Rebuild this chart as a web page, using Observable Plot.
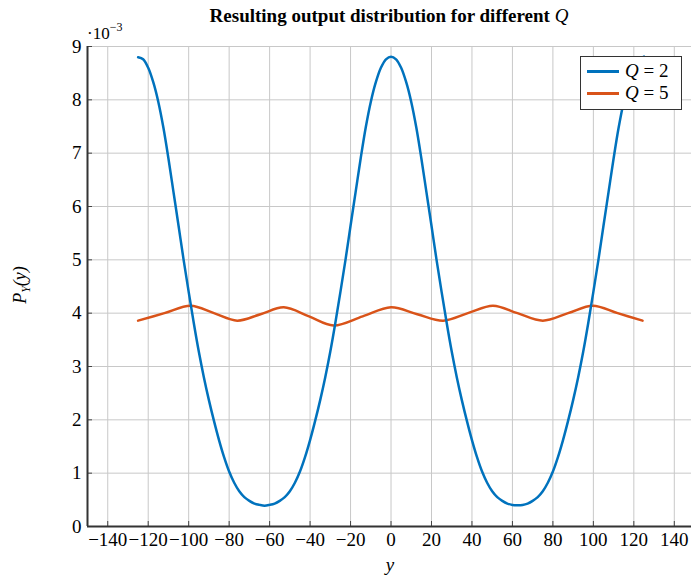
<!DOCTYPE html>
<html>
<head>
<meta charset="utf-8">
<script src="https://cdn.jsdelivr.net/npm/d3@7"></script>
<script src="https://cdn.jsdelivr.net/npm/@observablehq/plot@0.6"></script>
<style>
  body { margin: 0; background: #fff; }
  #wrap { position: relative; width: 691px; height: 576px; font-family: "Liberation Serif", "DejaVu Serif", serif; color: #000; }
  #title { position: absolute; left: 87px; width: 604px; top: 5px; text-align: center; font-weight: bold; font-size: 19px; }
  #expo { position: absolute; left: 87px; top: 21px; font-size: 17px; }
  #expo sup { font-size: 12px; position: relative; top: -1px; }
  #ylab { position: absolute; left: 22px; top: 285px; transform: translate(-50%, -50%) rotate(-90deg); font-size: 18px; font-style: italic; white-space: nowrap; }
  #xlab { position: absolute; left: 390px; top: 554px; transform: translateX(-50%); font-size: 19px; font-style: italic; }
  #legend { position: absolute; left: 580px; top: 56px; width: 102px; height: 54px; border: 1px solid #333; background: #fff; box-sizing: border-box; }
  .lg { position: absolute; left: 6px; display: flex; align-items: center; font-size: 19px; line-height: 22px; }
  .lg span.sw { display: inline-block; width: 32px; height: 3px; margin-right: 6px; }
  i { font-style: italic; }
</style>
</head>
<body>
<div id="wrap">
  <div id="chart"></div>
  <div id="title">Resulting output distribution for different <i style="font-weight:normal">Q</i></div>
  <div id="expo">·10<sup>−3</sup></div>
  <div id="ylab">P<sub style="font-size:12px">Y</sub>(y)</div>
  <div id="xlab">y</div>
  <div id="legend"></div>
</div>
<script>
// Values in units of 10^-3
const xTicks = [-140,-120,-100,-80,-60,-40,-20,0,20,40,60,80,100,120,140];
const yTicks = [0,1,2,3,4,5,6,7,8,9];
const seriesNames = ["Q = 2", "Q = 5"];
const seriesColors = ["#0072BD", "#D95319"];

const q2X = [-125,-122.5,-120,-117.5,-115,-112.5,-110,-107.5,-105,-102.5,-100,-97.5,-95,-92.5,-90,-87.5,-85,-82.5,-80,-77.5,-75,-72.5,-70,-67.5,-65,-62.5,
  -60,-57.5,-55,-52.5,-50,-47.5,-45,-42.5,-40,-37.5,-35,-32.5,-30,-27.5,-25,-22.5,-20,-17.5,-15,-12.5,-10,-7.5,-5,-2.5,0,
  2.5,5,7.5,10,12.5,15,17.5,20,22.5,25,27.5,30,32.5,35,37.5,40,42.5,45,47.5,50,52.5,55,57.5,60,62.5,
  65,67.5,70,72.5,75,77.5,80,82.5,85,87.5,90,92.5,95,97.5,100,102.5,105,107.5,110,112.5,115,117.5,120,122.5,125];
const q2Y = [8.80,8.76,8.60,8.33,7.96,7.48,6.90,6.27,5.64,5.00,4.40,3.82,3.28,2.80,2.37,1.98,1.62,1.30,1.03,0.82,0.66,0.55,0.48,0.43,0.405,0.39,
  0.405,0.43,0.48,0.55,0.66,0.82,1.03,1.30,1.62,1.98,2.37,2.80,3.28,3.82,4.40,5.00,5.64,6.27,6.90,7.48,7.96,8.33,8.60,8.76,8.81,
  8.76,8.60,8.33,7.96,7.48,6.90,6.27,5.64,5.00,4.40,3.82,3.28,2.80,2.37,1.98,1.62,1.30,1.03,0.82,0.66,0.55,0.48,0.43,0.405,0.40,
  0.405,0.43,0.48,0.55,0.66,0.82,1.03,1.30,1.62,1.98,2.37,2.80,3.28,3.82,4.40,5.00,5.64,6.27,6.90,7.48,7.96,8.33,8.60,8.76,8.81];

const q5X = [-125,-112,-99,-87.5,-76,-64.5,-53,-40.5,-28.4,-14,0,13,25.8,38,50.4,62.5,75,87.5,99.7,112,124.3];
const q5Y = [3.86,4.00,4.14,4.00,3.86,3.98,4.11,3.94,3.77,3.94,4.11,3.98,3.86,4.00,4.14,4.00,3.86,4.00,4.14,4.00,3.86];

const d2 = q2X.map((x, i) => ({x, y: q2Y[i]}));
const d5 = q5X.map((x, i) => ({x, y: q5Y[i]}));

const W = 691, H = 576, mL = 87, mR = 0, mT = 46, mB = 50;
const fmt = d => (d < 0 ? "\u2212" + Math.abs(d) : String(d));

const plot = Plot.plot({
  width: W, height: H,
  marginLeft: mL, marginRight: mR, marginTop: mT, marginBottom: mB,
  style: {fontFamily: '"Liberation Serif", serif', fontSize: "19px", color: "#000", background: "#fff"},
  x: {domain: [-150, 148.5], ticks: xTicks, tickFormat: fmt, label: null},
  y: {domain: [0, 9], ticks: yTicks, label: null},
  marks: [
    Plot.gridX(xTicks, {stroke: "#c8c8c8", strokeOpacity: 1}),
    Plot.gridY(yTicks, {stroke: "#c8c8c8", strokeOpacity: 1}),
    Plot.tickX(xTicks, {x: d => d, stroke: "#444", insetTop: H - mT - mB - 5}),
    Plot.tickY(yTicks, {y: d => d, stroke: "#444", insetRight: W - mL - mR - 5}),
    Plot.axisX({ticks: xTicks, tickFormat: fmt, tickSize: 0, tickPadding: 6, fontSize: 19}),
    Plot.axisY({ticks: yTicks, tickSize: 0, tickPadding: 6, fontSize: 19}),
    Plot.ruleY([0], {stroke: "#333", strokeWidth: 2}),
    Plot.ruleX([-150], {stroke: "#333", strokeWidth: 2}),
    Plot.line(d5, {x: "x", y: "y", stroke: seriesColors[1], strokeWidth: 2.5, curve: "catmull-rom"}),
    Plot.line(d2, {x: "x", y: "y", stroke: seriesColors[0], strokeWidth: 2.5, curve: "catmull-rom"})
  ]
});
document.getElementById("chart").appendChild(plot);

const lg = document.getElementById("legend");
seriesNames.forEach((name, i) => {
  const row = document.createElement("div");
  row.className = "lg";
  row.style.top = (i === 0 ? 3 : 25) + "px";
  const [q, rest] = name.split(" = ");
  row.innerHTML = `<span class="sw" style="background:${seriesColors[i]}"></span><i>${q}</i>&nbsp;=&nbsp;${rest}`;
  lg.appendChild(row);
});
</script>
</body>
</html>
